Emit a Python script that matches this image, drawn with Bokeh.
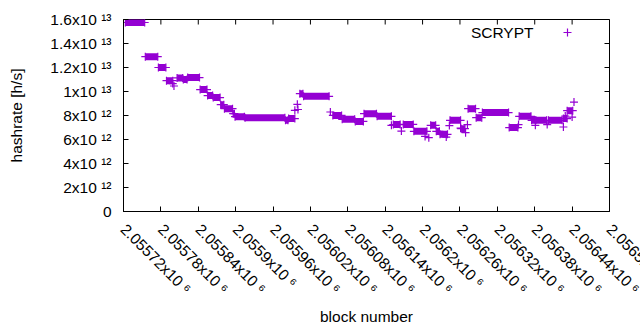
import math
from bokeh.plotting import figure
from bokeh.layouts import column
from bokeh.models import Range1d, FixedTicker, Label
from bokeh.embed import file_html
from bokeh.resources import INLINE

# ---------------- data (hashrate in units of 1e12 h/s) ----------------
X_MIN, X_MAX = 2055720, 2056500
Y_MIN, Y_MAX = 0, 16

# runs of consecutive blocks sharing the same hashrate estimate
run_start = [2055723, 2055755, 2055776, 2055789, 2055806, 2055816, 2055823, 2055843,
             2055855, 2055864, 2055876, 2055882, 2055896, 2055899, 2055915, 2055980,
             2055985, 2056003, 2056009, 2056056, 2056071, 2056092, 2056106, 2056127,
             2056153, 2056169, 2056186, 2056213, 2056222, 2056228, 2056244, 2056262,
             2056273, 2056286, 2056296, 2056339, 2056355, 2056375, 2056382, 2056402,
             2056426, 2056432]
run_end = [2055754, 2055775, 2055788, 2055799, 2055815, 2055822, 2055842, 2055854,
           2055863, 2055875, 2055881, 2055895, 2055898, 2055914, 2055979, 2055984,
           2055995, 2056008, 2056050, 2056070, 2056091, 2056105, 2056126, 2056150,
           2056164, 2056185, 2056207, 2056221, 2056227, 2056240, 2056261, 2056268,
           2056285, 2056295, 2056338, 2056353, 2056374, 2056381, 2056399, 2056424,
           2056432, 2056441]
run_value = [15.75, 12.9, 12.0, 10.9, 11.13, 11.0, 11.16, 10.16,
             9.66, 9.49, 8.9, 8.57, 8.15, 7.9, 7.82, 7.6,
             7.74, 9.82, 9.6, 8.01, 7.68, 7.51, 8.15, 7.93,
             7.24, 7.26, 6.68, 7.18, 6.68, 6.43, 7.6, 6.9,
             8.57, 7.82, 8.24, 6.99, 7.93, 7.6, 7.6, 7.6,
             7.74, 8.4]

# isolated blocks
single_block = [2055799, 2055801, 2055995, 2055999, 2056000, 2056052, 2056150, 2056166,
                2056204, 2056210, 2056238, 2056243, 2056261, 2056269, 2056272, 2056354,
                2056381, 2056400, 2056426, 2056429, 2056440, 2056443]
single_value = [10.66, 10.46, 8.43, 8.93, 8.5, 8.29, 7.18, 6.7,
                6.26, 6.15, 6.2, 7.16, 6.95, 6.57, 7.24, 7.24,
                7.18, 7.24, 7.04, 7.96, 7.87, 9.12]

x_ticks = [2055720, 2055780, 2055840, 2055900, 2055960, 2056020, 2056080,
           2056140, 2056200, 2056260, 2056320, 2056380, 2056440, 2056500]
x_tick_mant = ["2.05572x10", "2.05578x10", "2.05584x10", "2.0559x10", "2.05596x10",
               "2.05602x10", "2.05608x10", "2.05614x10", "2.0562x10", "2.05626x10",
               "2.05632x10", "2.05638x10", "2.05644x10", "2.0565x10"]
x_tick_exp = ["6"] * 14

y_ticks = [0, 2, 4, 6, 8, 10, 12, 14, 16]
y_tick_mant = ["0", "2x10", "4x10", "6x10", "8x10", "1x10", "1.2x10", "1.4x10", "1.6x10"]
y_tick_exp = ["", "12", "12", "12", "12", "13", "13", "13", "13"]

series_name = "SCRYPT"
x_title = "block number"
y_title = "hashrate [h/s]"

# ---------------- style ----------------
PURPLE = "#9400d3"
FONT = "Liberation Sans"
FS = "15.5px"
SUP = str.maketrans("0123456789", "⁰¹²³⁴⁵⁶⁷⁸⁹")


def tick_text(m, e):
    return m + (" " + e.translate(SUP) if e else "")


# the canvas is wider than the window so the last tick label can run past the
# right edge (as in the reference); the wrapping column clips it at 640 px
p = figure(width=700, height=330, width_policy="fixed", height_policy="fixed",
           x_range=Range1d(X_MIN, X_MAX), y_range=Range1d(Y_MIN, Y_MAX),
           output_backend="svg", toolbar_location=None,
           min_border_left=123, min_border_right=91, min_border_top=19, min_border_bottom=119)
p.grid.visible = False
p.background_fill_color = "white"
p.border_fill_color = "white"
p.outline_line_color = "black"
p.outline_line_width = 1

for ax, ticks, labels in ((p.xaxis[0], x_ticks, [tick_text(m, e) for m, e in zip(x_tick_mant, x_tick_exp)]),
                          (p.yaxis[0], y_ticks, [tick_text(m, e) for m, e in zip(y_tick_mant, y_tick_exp)])):
    ax.ticker = FixedTicker(ticks=ticks)
    ax.major_label_overrides = {t: s for t, s in zip(ticks, labels)}
    ax.major_tick_in = 5
    ax.major_tick_out = 0
    ax.minor_tick_in = 0
    ax.minor_tick_out = 0
    ax.axis_line_color = "black"
    ax.major_tick_line_color = "black"
    ax.major_label_text_font = FONT
    ax.major_label_text_font_size = FS
    ax.major_label_text_color = "black"
    ax.axis_label_text_font = FONT
    ax.axis_label_text_font_size = FS
    ax.axis_label_text_font_style = "normal"
    ax.axis_label_text_color = "black"

p.xaxis.major_label_orientation = -math.pi / 4
p.xaxis.major_label_standoff = 15
p.xaxis.axis_label = x_title
p.xaxis.axis_label_standoff = 2
p.yaxis.major_label_standoff = 12
p.yaxis.axis_label = y_title
p.yaxis.axis_label_standoff = 22

# mirrored inward ticks on right and top borders (half of each dash is clipped by the frame)
p.scatter(x=[X_MAX] * len(y_ticks), y=y_ticks, marker="dash", size=10,
          line_color="black", line_width=1)
p.scatter(x=x_ticks, y=[Y_MAX] * len(x_ticks), marker="dash", angle=math.pi / 2, size=10,
          line_color="black", line_width=1)

# ---------------- data marks ----------------
p.segment(x0=run_start, y0=run_value, x1=run_end, y1=run_value,
          line_color=PURPLE, line_width=7, line_cap="butt")
p.scatter(x=run_start + run_end + single_block,
          y=run_value + run_value + single_value,
          marker="cross", size=8, line_width=1.2, color=PURPLE)

# legend (text then key, gnuplot style)
p.add_layout(Label(x=X_MAX, y=Y_MAX, x_offset=-76, y_offset=-13, text=series_name,
                   text_align="right", text_baseline="middle",
                   text_font=FONT, text_font_size=FS, text_color="black"))
key_x = X_MAX - 42 * (X_MAX - X_MIN) / 486
key_y = Y_MAX - 13 * (Y_MAX - Y_MIN) / 192
p.scatter(x=[key_x], y=[key_y], marker="cross", size=8, line_width=1.2, color=PURPLE)

page = column(p, width=640, height=330, width_policy="fixed", height_policy="fixed",
              styles={"overflow": "hidden"})

open("out.html", "w").write(file_html(page, INLINE))
